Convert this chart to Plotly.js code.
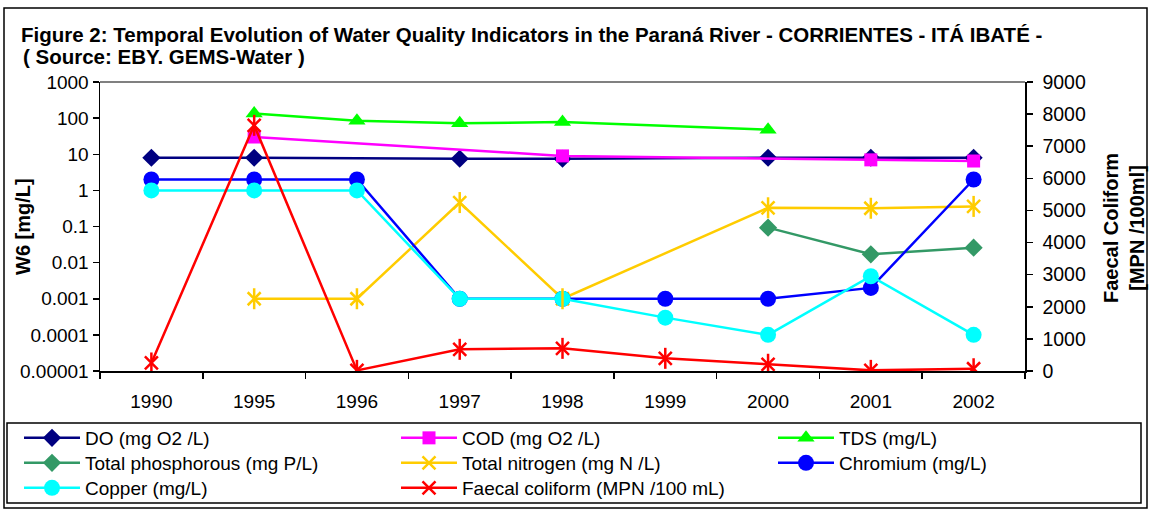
<!DOCTYPE html>
<html>
<head>
<meta charset="utf-8">
<script src="https://cdn.plot.ly/plotly-3.0.1.min.js"></script>
<style>html,body{margin:0;padding:0;background:#fff;}#chart{width:1151px;height:511px;}</style>
</head>
<body>
<div id="chart"></div>
<script>
// ---- data ----
const years = ["1990","1995","1996","1997","1998","1999","2000","2001","2002"];
const doVals   = [8, 8, null, 7.5, 7.5, null, 8, 8, 8];
const codVals  = [null, 30, null, null, 9, null, null, 7, 6.5];
const tdsVals  = [null, 135, 85, 72, 78, null, 48, null, null];
const tpVals   = [null, null, null, null, null, null, 0.093, 0.017, 0.026];
const tnVals   = [null, 0.001, 0.001, 0.46, 0.001, null, 0.33, 0.32, 0.36];
const crVals   = [2, 2, 2, 0.001, 0.001, 0.001, 0.001, 0.002, 2];
const cuVals   = [1, 1, 1, 0.001, 0.001, 0.0003, 0.0001, 0.0042, 0.0001];
const fcVals   = [250, 7650, 20, 675, 705, 395, 210, 20, 70];
const logTickVals = [0.00001, 0.0001, 0.001, 0.01, 0.1, 1, 10, 100, 1000];
const logTickText = ["0.00001","0.0001","0.001","0.01","0.1","1","10","100","1000"];

const FONT = "Liberation Sans, Arial, sans-serif";
const FW = 1151, FH = 511;
const X = v => v / FW;           // pixel -> paper x
const Y = v => (FH - v) / FH;    // pixel -> paper y

function series(name, y, color, symbol, size, legend, extra) {
  const filled = symbol.indexOf("open") < 0;
  return Object.assign({
    type: "scatter", mode: "lines+markers", name: name, x: years, y: y,
    connectgaps: true, legend: legend, legendgroup: name,
    line: {color: color, width: 2.5},
    marker: filled ? {symbol: symbol, size: size, color: color, line: {width: 0}}
                   : {symbol: symbol, size: size, color: color, line: {color: color, width: 2.5}}
  }, extra || {});
}

const traces = [
  series("DO (mg O2 /L)", doVals, "#000080", "diamond", 14, "legend"),
  series("COD (mg O2 /L)", codVals, "#FF00FF", "square", 13, "legend"),
  series("TDS (mg/L)", tdsVals, "#00FF00", "triangle-up", 15, "legend"),
  series("Total phosphorous (mg P/L)", tpVals, "#339966", "diamond", 14, "legend2"),
  series("Total nitrogen (mg N /L)", tnVals, "#FFCC00", "x-thin-open", 13, "legend2"),
  series("Chromium (mg/L)", crVals, "#0000FF", "circle", 16, "legend2"),
  series("Copper (mg/L)", cuVals, "#00FFFF", "circle", 16, "legend3"),
  series("Faecal coliform (MPN /100 mL)", fcVals, "#FF0000", "x-thin-open", 13, "legend3", {yaxis: "y2"}),
  // vertical strokes completing the asterisk markers
  {type: "scatter", mode: "markers", x: years, y: tnVals, showlegend: false, hoverinfo: "skip",
   marker: {symbol: "line-ns-open", size: 15, color: "#FFCC00", line: {color: "#FFCC00", width: 2.5}}},
  {type: "scatter", mode: "markers", x: years, y: fcVals, yaxis: "y2", showlegend: false, hoverinfo: "skip",
   marker: {symbol: "line-ns-open", size: 15, color: "#FF0000", line: {color: "#FF0000", width: 2.5}}}
];

const PL = 100, PR = 1025, PT = 82, PB = 371;
const TICKFONT = {family: FONT, size: 19, color: "#000"};

function legendRow(topPx) {
  return {
    orientation: "h", x: X(19), xanchor: "left", y: Y(topPx), yanchor: "top",
    borderwidth: 0, bgcolor: "rgba(0,0,0,0)",
    font: {family: FONT, size: 19, color: "#000"},
    entrywidth: 306, entrywidthmode: "pixels", itemwidth: 56,
    traceorder: "normal", tracegroupgap: 0
  };
}

const layout = {
  width: FW, height: FH,
  margin: {l: 0, r: 0, t: 0, b: 0, pad: 0, autoexpand: false},
  paper_bgcolor: "#fff", plot_bgcolor: "#fff",
  font: {family: FONT, size: 19, color: "#000"},
  showlegend: true,
  title: {
    text: "Figure 2: Temporal Evolution of Water Quality Indicators in the Paraná River - CORRIENTES - ITÁ IBATÉ -",
    font: {family: FONT, size: 20.5, color: "#000", weight: "bold"},
    xref: "container", yref: "container", x: X(21), xanchor: "left", y: Y(35), yanchor: "middle"
  },
  xaxis: {
    domain: [X(PL), X(PR)],
    type: "category", categoryorder: "array", categoryarray: years,
    range: [-0.5, 8.5],
    showline: true, linecolor: "#000", linewidth: 1.5,
    ticks: "outside", tickson: "boundaries", ticklen: 6, tickcolor: "#000", tickwidth: 1.5,
    ticklabelstandoff: 13,
    showgrid: false, zeroline: false, fixedrange: true, automargin: false,
    tickfont: TICKFONT
  },
  yaxis: {
    domain: [Y(PB), Y(PT)],
    type: "log", range: [-5, 3],
    tickvals: logTickVals, ticktext: logTickText,
    showline: true, linecolor: "#000", linewidth: 1.5,
    ticks: "outside", ticklen: 6, tickcolor: "#000", tickwidth: 1.5,
    showgrid: false, zeroline: false, fixedrange: true, automargin: false,
    tickfont: TICKFONT
  },
  yaxis2: {
    overlaying: "y", side: "right", range: [0, 9000], dtick: 1000, tick0: 0,
    showline: true, linecolor: "#000", linewidth: 1.5,
    ticks: "outside", ticklen: 6, tickcolor: "#000", tickwidth: 1.5,
    ticklabelstandoff: 6,
    showgrid: false, zeroline: false, fixedrange: true, automargin: false,
    tickfont: {family: FONT, size: 19.5, color: "#000"}
  },
  legend: legendRow(419),
  legend2: legendRow(444),
  legend3: legendRow(469),
  annotations: [
    {text: "<b>( Source: EBY. GEMS-Water )</b>", xref: "paper", yref: "paper", x: X(21), y: Y(56),
     xanchor: "left", yanchor: "middle", showarrow: false, font: {family: FONT, size: 20.5}},
    {text: "<b>W6 [mg/L]</b>", xref: "paper", yref: "paper", x: X(23), y: Y(227), textangle: -90,
     showarrow: false, font: {family: FONT, size: 20}, xanchor: "center", yanchor: "middle"},
    {text: "<b>Faecal Coliform<br>[MPN /100ml]</b>", xref: "paper", yref: "paper", x: X(1124), y: Y(228), textangle: -90,
     showarrow: false, font: {family: FONT, size: 20}, xanchor: "center", yanchor: "middle"}
  ],
  shapes: [
    // plot-area top border (grey)
    {type: "line", xref: "paper", yref: "paper", x0: X(PL), x1: X(PR), y0: Y(PT), y1: Y(PT), line: {color: "#808080", width: 2}},
    // legend box
    {type: "rect", xref: "paper", yref: "paper", x0: X(7), x1: X(1141), y0: Y(503), y1: Y(423),
     line: {color: "#000", width: 1.5}, fillcolor: "rgba(0,0,0,0)", layer: "above"},
    // chart outer border
    {type: "rect", xref: "paper", yref: "paper", x0: X(4), x1: X(1147), y0: Y(508), y1: Y(8),
     line: {color: "#000", width: 1.5}, fillcolor: "rgba(0,0,0,0)", layer: "above"}
  ]
};

Plotly.newPlot("chart", traces, layout, {displayModeBar: false, staticPlot: true});
</script>
</body>
</html>
